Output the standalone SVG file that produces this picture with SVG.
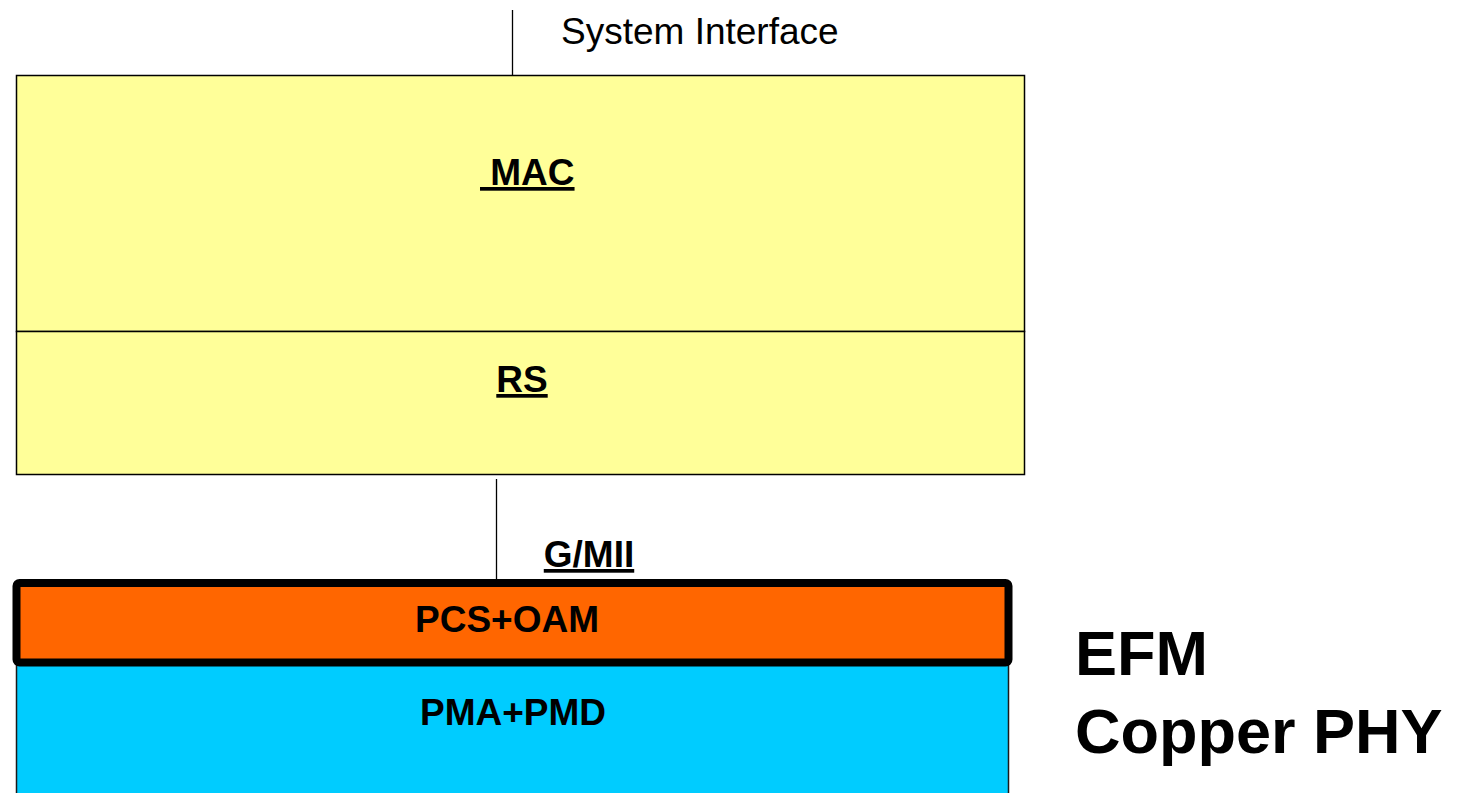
<svg xmlns="http://www.w3.org/2000/svg" width="1457" height="793" viewBox="0 0 1457 793">
<style>
.lbl{font-family:"Liberation Sans",Arial,sans-serif;font-weight:bold;font-size:37px;fill:#000}
.ul{text-decoration:underline}
.plain{font-family:"Liberation Sans",Arial,sans-serif;font-size:37px;fill:#000}
.big{font-family:"Liberation Sans",Arial,sans-serif;font-weight:bold;font-size:63px;fill:#000}
.conn{stroke:#000;stroke-width:1.3;fill:none}
</style>
<rect width="1457" height="793" fill="#fff"/>
<g id="connectors">
<line class="conn" x1="512.5" y1="10" x2="512.5" y2="75"/>
<line class="conn" x1="496.5" y1="479" x2="496.5" y2="580"/>
</g>
<g id="system-interface">
<text class="plain" x="561" y="44">System Interface</text>
</g>
<g id="mac">
<rect x="16.5" y="75.5" width="1008" height="256" fill="#FFFF99" stroke="#000" stroke-width="1.5"/>
<text class="lbl ul" x="480" y="185" xml:space="preserve"> MAC</text>
</g>
<g id="rs">
<rect x="16.5" y="331.5" width="1008" height="143" fill="#FFFF99" stroke="#000" stroke-width="1.5"/>
<text class="lbl ul" x="522" y="392" text-anchor="middle">RS</text>
</g>
<g id="gmii">
<text class="lbl ul" x="589" y="567" text-anchor="middle">G/MII</text>
</g>
<g id="pma-pmd">
<rect x="16.5" y="662" width="992" height="140" fill="#00CCFF" stroke="#1a1a1a" stroke-width="1.5"/>
<text class="lbl" x="513" y="725" text-anchor="middle">PMA+PMD</text>
</g>
<g id="pcs-oam">
<rect x="16.5" y="583" width="992" height="79.5" rx="3" fill="#FF6600" stroke="#000" stroke-width="8"/>
<text class="lbl" x="507" y="632" text-anchor="middle">PCS+OAM</text>
</g>
<g id="efm-label">
<text class="big" x="1075" y="675">EFM</text>
<text class="big" x="1075" y="753">Copper PHY</text>
</g>
</svg>
